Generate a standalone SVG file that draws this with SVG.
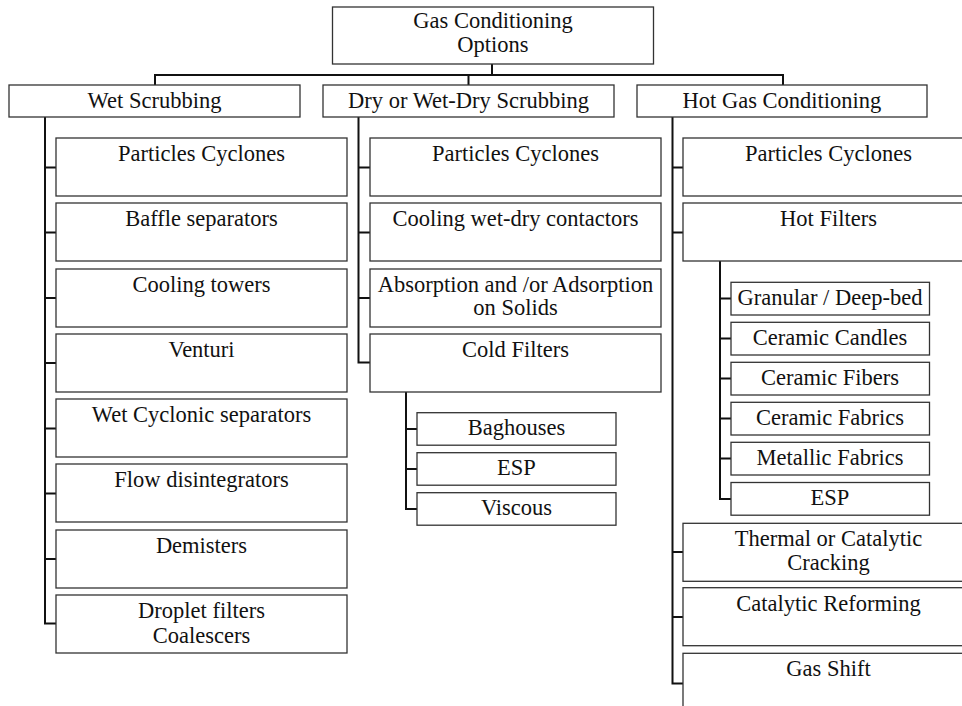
<svg xmlns="http://www.w3.org/2000/svg" width="962" height="706" viewBox="0 0 962 706">
<style>
.box{fill:#fff;stroke:#333;stroke-width:1.3}
.t{font-family:"Liberation Serif","Times New Roman",serif;font-size:22.5px;fill:#111;text-anchor:middle}
.c{fill:none;stroke:#111;stroke-width:2;stroke-linecap:square}
</style>
<rect width="962" height="706" fill="#fff"/>
<g id="connectors">
<path class="c" d="M492 64V75M155 75H783M155 75V85M468.5 75V85M783 75V85"/>
<path class="c" d="M45 117V623.5H56M45 167.5H56M45 232.5H56M45 298H56M45 363H56M45 428.5H56M45 493.5H56M45 559H56"/>
<path class="c" d="M358.5 117V362.5H370M358.5 167.5H370M358.5 232.5H370M358.5 298H370"/>
<path class="c" d="M406 392V509H417M406 429H417M406 469H417"/>
<path class="c" d="M672.5 117V683.5H683M672.5 167.5H683M672.5 232.5H683M672.5 552H683M672.5 617H683"/>
<path class="c" d="M720 261V499H731M720 298.5H731M720 338.5H731M720 378.5H731M720 418.5H731M720 458.5H731"/>
</g>
<g id="root"><rect class="box" x="332.5" y="7" width="321" height="57"/><text class="t" x="493" y="27.5">Gas Conditioning</text><text class="t" x="493" y="51.5">Options</text></g>
<g id="wet"><rect class="box" x="9" y="85" width="291" height="32"/><text class="t" x="154.5" y="108">Wet Scrubbing</text></g>
<g id="dry"><rect class="box" x="323" y="85" width="291" height="32"/><text class="t" x="468.5" y="108">Dry or Wet-Dry Scrubbing</text></g>
<g id="hot"><rect class="box" x="637" y="85" width="290" height="32"/><text class="t" x="782" y="108">Hot Gas Conditioning</text></g>

<g id="wet1"><rect class="box" x="56" y="138" width="291" height="58"/><text class="t" x="201.5" y="161">Particles Cyclones</text></g>
<g id="wet2"><rect class="box" x="56" y="203" width="291" height="58"/><text class="t" x="201.5" y="226">Baffle separators</text></g>
<g id="wet3"><rect class="box" x="56" y="269" width="291" height="58"/><text class="t" x="201.5" y="292">Cooling towers</text></g>
<g id="wet4"><rect class="box" x="56" y="334" width="291" height="58"/><text class="t" x="201.5" y="357">Venturi</text></g>
<g id="wet5"><rect class="box" x="56" y="399" width="291" height="58"/><text class="t" x="201.5" y="422">Wet Cyclonic separators</text></g>
<g id="wet6"><rect class="box" x="56" y="464" width="291" height="58"/><text class="t" x="201.5" y="487">Flow disintegrators</text></g>
<g id="wet7"><rect class="box" x="56" y="530" width="291" height="58"/><text class="t" x="201.5" y="553">Demisters</text></g>
<g id="wet8"><rect class="box" x="56" y="595" width="291" height="58"/><text class="t" x="201.5" y="618">Droplet filters</text><text class="t" x="201.5" y="642.5">Coalescers</text></g>

<g id="dry1"><rect class="box" x="370" y="138" width="291" height="58"/><text class="t" x="515.5" y="161">Particles Cyclones</text></g>
<g id="dry2"><rect class="box" x="370" y="203" width="291" height="58"/><text class="t" x="515.5" y="226">Cooling wet-dry contactors</text></g>
<g id="dry3"><rect class="box" x="370" y="269" width="291" height="58"/><text class="t" x="515.5" y="291.5">Absorption and /or Adsorption</text><text class="t" x="515.5" y="315">on Solids</text></g>
<g id="dry4"><rect class="box" x="370" y="334" width="291" height="58"/><text class="t" x="515.5" y="357">Cold Filters</text></g>
<g id="cold1"><rect class="box" x="417" y="412.7" width="199" height="32.5"/><text class="t" x="516.5" y="435">Baghouses</text></g>
<g id="cold2"><rect class="box" x="417" y="452.7" width="199" height="32.5"/><text class="t" x="516.5" y="475">ESP</text></g>
<g id="cold3"><rect class="box" x="417" y="492.7" width="199" height="32.5"/><text class="t" x="516.5" y="515">Viscous</text></g>

<g id="hot1"><rect class="box" x="683" y="138" width="291" height="58"/><text class="t" x="828.5" y="161">Particles Cyclones</text></g>
<g id="hot2"><rect class="box" x="683" y="203" width="291" height="58"/><text class="t" x="828.5" y="226">Hot Filters</text></g>
<g id="hf1"><rect class="box" x="731" y="282.3" width="198.5" height="32.7"/><text class="t" x="830" y="305">Granular / Deep-bed</text></g>
<g id="hf2"><rect class="box" x="731" y="322.3" width="198.5" height="32.7"/><text class="t" x="830" y="345">Ceramic Candles</text></g>
<g id="hf3"><rect class="box" x="731" y="362.3" width="198.5" height="32.7"/><text class="t" x="830" y="385">Ceramic Fibers</text></g>
<g id="hf4"><rect class="box" x="731" y="402.3" width="198.5" height="32.7"/><text class="t" x="830" y="425">Ceramic Fabrics</text></g>
<g id="hf5"><rect class="box" x="731" y="442.3" width="198.5" height="32.7"/><text class="t" x="830" y="465">Metallic Fabrics</text></g>
<g id="hf6"><rect class="box" x="731" y="482.5" width="198.5" height="32.7"/><text class="t" x="830" y="505">ESP</text></g>
<g id="hot3"><rect class="box" x="683" y="523.3" width="291" height="58"/><text class="t" x="828.5" y="546">Thermal or Catalytic</text><text class="t" x="828.5" y="570">Cracking</text></g>
<g id="hot4"><rect class="box" x="683" y="587.7" width="291" height="58"/><text class="t" x="828.5" y="610.5">Catalytic Reforming</text></g>
<g id="hot5"><rect class="box" x="683" y="653.3" width="291" height="62"/><text class="t" x="828.5" y="676">Gas Shift</text></g>
</svg>
